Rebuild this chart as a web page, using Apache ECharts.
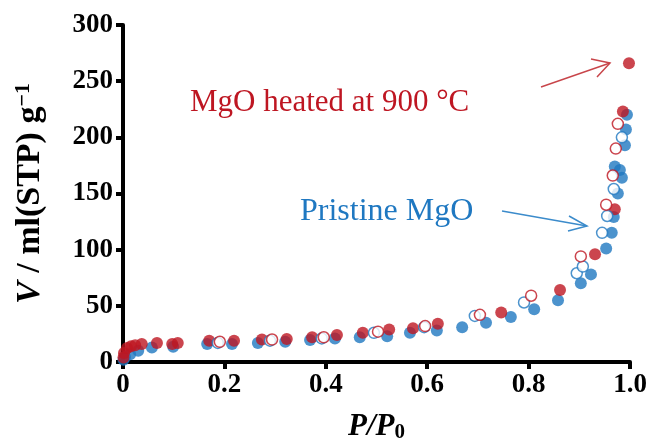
<!DOCTYPE html>
<html><head><meta charset="utf-8">
<script src="https://cdn.jsdelivr.net/npm/echarts@6/dist/echarts.min.js"></script>
<style>html,body{margin:0;padding:0;background:#fff}#c{width:652px;height:444px}</style>
</head><body><div id="c"></div>
<script>
// Pristine MgO – adsorption (filled)
const pristineAds = [[0.001,2],[0.004,4.5],[0.014,7],[0.03,10],[0.057,13],[0.099,13.5],[0.166,16],[0.215,16],[0.266,17],[0.32,18],[0.369,19.5],[0.418,21],[0.467,22],[0.521,23],[0.566,26],[0.619,28],[0.669,31],[0.716,35],[0.765,40],[0.811,47],[0.858,55],[0.903,70],[0.923,78],[0.953,101],[0.964,115],[0.968,129],[0.976,150],[0.984,164],[0.98,171],[0.97,174],[0.99,193],[0.992,207],[0.994,220]];
// Pristine MgO – desorption (open)
const pristineDes = [[0.187,17],[0.29,19],[0.392,21],[0.495,26],[0.594,31],[0.694,41],[0.791,53],[0.895,79],[0.907,85],[0.945,115],[0.955,130],[0.968,154],[0.984,200]];
// MgO heated at 900 °C – adsorption (filled)
const heatedAds = [[0.001,4],[0.002,8],[0.008,12.5],[0.016,14],[0.024,15],[0.037,16],[0.067,17],[0.097,16],[0.108,17],[0.17,19],[0.219,19],[0.274,20],[0.323,20.5],[0.373,22],[0.422,24],[0.473,26],[0.525,29],[0.572,30],[0.621,34],[0.746,44],[0.862,64],[0.931,96],[0.97,136],[0.986,223],[0.998,266]];
// MgO heated at 900 °C – desorption (open)
const heatedDes = [[0.191,18],[0.294,20],[0.396,22],[0.503,27],[0.596,32],[0.704,42],[0.805,59],[0.903,94],[0.953,140],[0.966,166],[0.972,190],[0.976,212]];

const xTicks = [0,0.2,0.4,0.6,0.8,1.0];
const yTicks = [0,50,100,150,200,250,300];

const RED = '#BE1622', BLUE = '#1F78C1';
const FONT = 'Liberation Serif';

const chart = echarts.init(document.getElementById('c'));
chart.setOption({
  animation:false,
  backgroundColor:'#fff',
  grid:{left:123,right:22,top:25,bottom:82,outerBoundsMode:'none',containLabel:false},
  xAxis:{type:'value',min:xTicks[0],max:xTicks[xTicks.length-1],interval:0.2,
    axisLine:{lineStyle:{color:'#000',width:4}},
    axisTick:{length:7,lineStyle:{width:4,color:'#000'}},
    axisLabel:{fontFamily:FONT,fontWeight:'bold',fontSize:27,color:'#000',margin:10,
      formatter:v=>v===0?'0':v.toFixed(1)},
    splitLine:{show:false},
    name:'{i|P}{i|/}{i|P}{s|0}',nameLocation:'middle',nameGap:48,
    nameTextStyle:{rich:{i:{fontFamily:FONT,fontStyle:'italic',fontWeight:'bold',fontSize:31,color:'#000'},
      s:{fontFamily:FONT,fontWeight:'bold',fontSize:21,color:'#000',verticalAlign:'bottom',padding:[12,0,0,0]}}}
  },
  yAxis:{type:'value',min:yTicks[0],max:yTicks[yTicks.length-1],interval:50,
    axisLine:{lineStyle:{color:'#000',width:4}},
    axisTick:{length:7,lineStyle:{width:4,color:'#000'}},
    axisLabel:{fontFamily:FONT,fontWeight:'bold',fontSize:27,color:'#000',margin:10},
    splitLine:{show:false},
    name:'{i|V}{n| / ml(STP) g}{s|−1}',nameLocation:'middle',nameGap:75,
    nameTextStyle:{rich:{i:{fontFamily:FONT,fontStyle:'italic',fontWeight:'bold',fontSize:34,color:'#000'},
      n:{fontFamily:FONT,fontWeight:'bold',fontSize:34,color:'#000'},
      s:{fontFamily:FONT,fontWeight:'bold',fontSize:22,color:'#000',verticalAlign:'top',padding:[0,0,14,0]}}}
  },
  series:[
    {type:'scatter',data:pristineAds,symbolSize:12,itemStyle:{color:BLUE},clip:false,z:2},
    {type:'scatter',data:heatedAds,symbolSize:12,itemStyle:{color:RED},clip:false,z:3},
    {type:'scatter',data:pristineDes,symbolSize:11,itemStyle:{color:'#fff',borderColor:BLUE,borderWidth:1.5},clip:false,z:4},
    {type:'scatter',data:heatedDes,symbolSize:11,itemStyle:{color:'#fff',borderColor:RED,borderWidth:1.5},clip:false,z:5}
  ],
  graphic:[
    {type:'text',left:190,top:87,style:{text:'MgO heated at 900 °C',fontFamily:FONT,fontSize:31,fill:RED}},
    {type:'text',left:300,top:196,style:{text:'Pristine MgO',fontFamily:FONT,fontSize:32,fill:BLUE}},
    {type:'polyline',shape:{points:[[541,87],[610,63]]},style:{stroke:'#C8454A',lineWidth:1.5,fill:null}},
    {type:'polyline',shape:{points:[[591,59],[610,63],[597,77]]},style:{stroke:'#C8454A',lineWidth:1.5,fill:null}},
    {type:'polyline',shape:{points:[[502,211],[587,226]]},style:{stroke:'#3B8BCB',lineWidth:1.5,fill:null}},
    {type:'polyline',shape:{points:[[569,216],[587,226],[568,231]]},style:{stroke:'#3B8BCB',lineWidth:1.5,fill:null}}
  ]
});
</script></body></html>
